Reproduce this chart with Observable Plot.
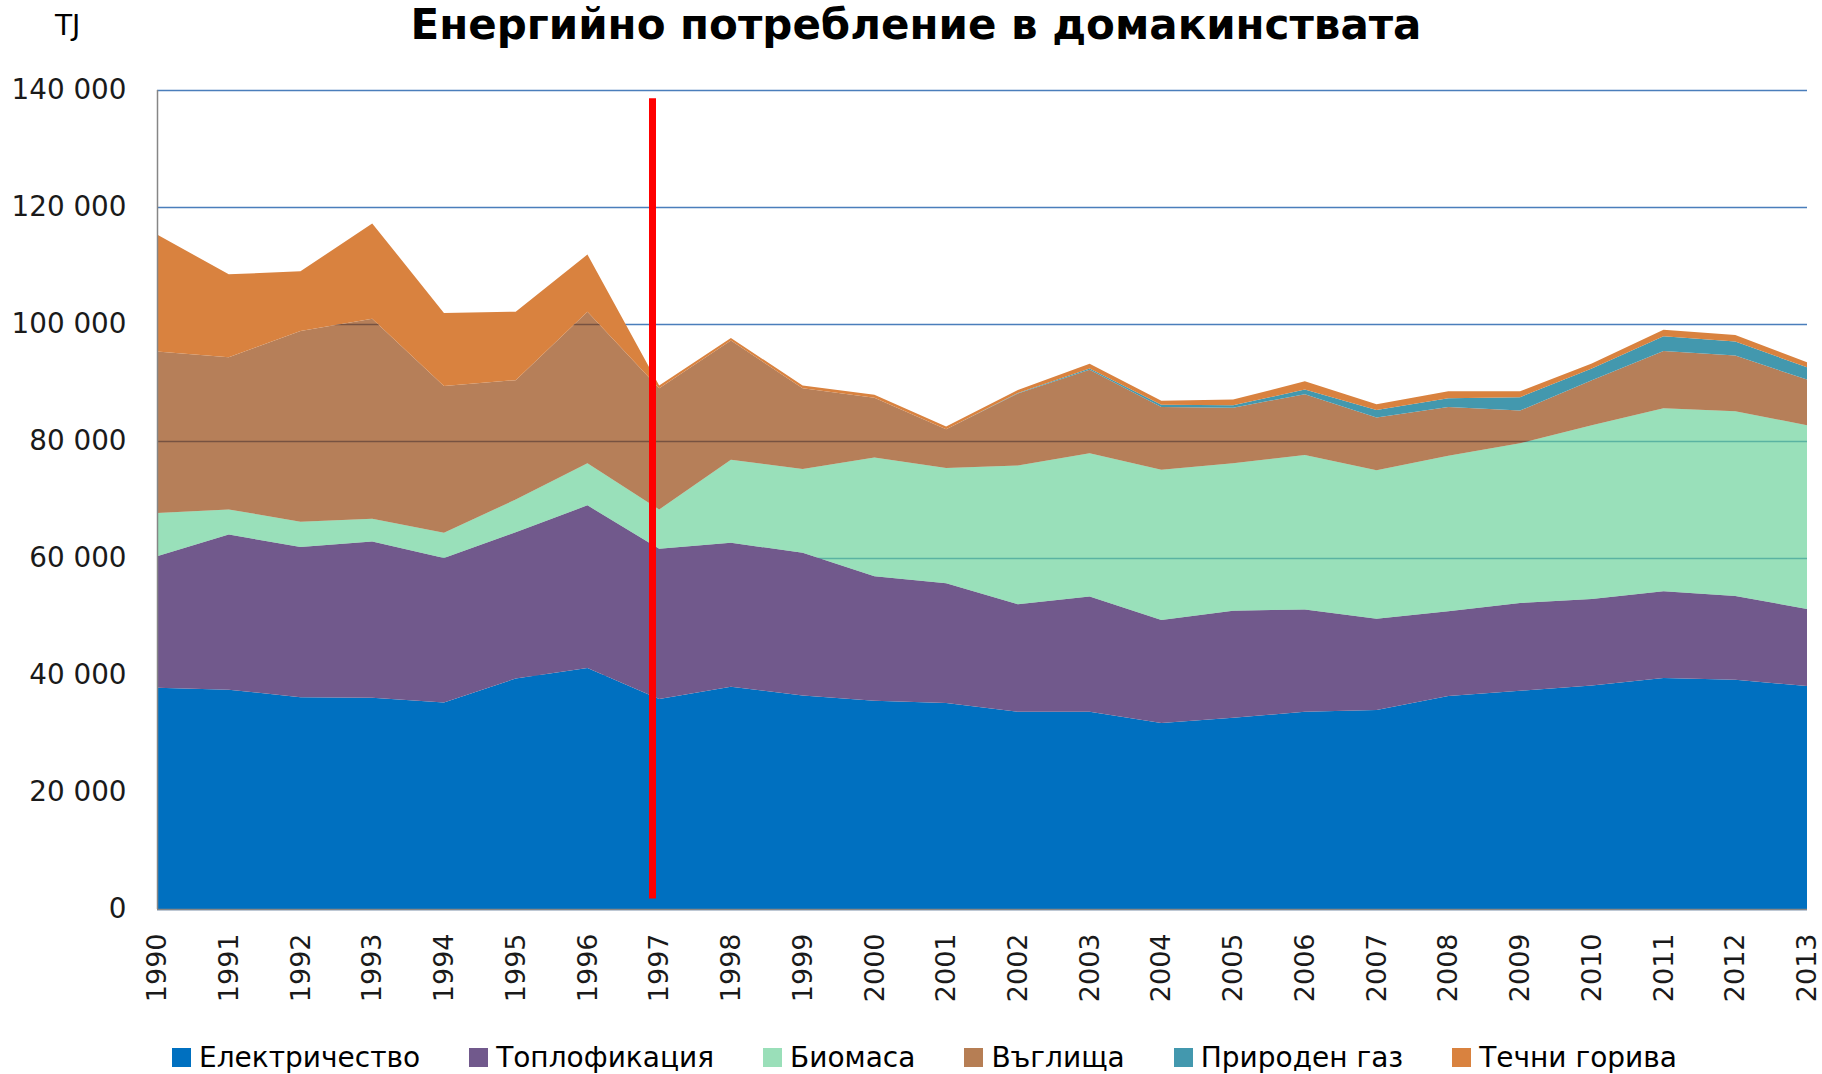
<!DOCTYPE html>
<html>
<head>
<meta charset="utf-8">
<script src="https://cdn.jsdelivr.net/npm/d3@7"></script>
<script src="https://cdn.jsdelivr.net/npm/@observablehq/plot@0.6"></script>
<style>
  html, body { margin: 0; padding: 0; background: #fff; }
  #wrap { position: relative; width: 1822px; height: 1074px; overflow: hidden; font-family: "DejaVu Sans", sans-serif; }
  #title { position: absolute; left: 0; width: 1822px; box-sizing: border-box; padding-left: 10px; top: 0px; line-height: normal; text-align: center; font-weight: bold; font-size: 42px; color: #000; white-space: nowrap; }
  #unit { position: absolute; left: 55px; top: 9px; font-size: 28px; color: #000; }
  #chart { position: absolute; left: 0; top: 0; }
  #legend { position: absolute; left: 172px; top: 1041px; display: flex; align-items: center; font-size: 28px; color: #000; white-space: nowrap; }
  .item { display: flex; align-items: center; margin-right: 49px; }
  .sw { width: 19px; height: 19px; margin-right: 8px; }
</style>
</head>
<body>
<div id="wrap">
  <div id="chart"></div>
  <div id="title">Енергийно потребление в домакинствата</div>
  <div id="unit">TJ</div>
  <div id="legend"></div>
</div>
<script>
// ---- Data (TJ) ----
const years = [1990, 1991, 1992, 1993, 1994, 1995, 1996, 1997, 1998, 1999, 2000, 2001,
               2002, 2003, 2004, 2005, 2006, 2007, 2008, 2009, 2010, 2011, 2012, 2013];
const seriesNames = ["Електричество", "Топлофикация", "Биомаса", "Въглища", "Природен газ", "Течни горива"];
const electricity = [37800, 37500, 36200, 36100, 35300, 39400, 41200, 35900, 38000, 36500, 35600, 35200,
                     33700, 33700, 31800, 32700, 33700, 34000, 36400, 37300, 38200, 39500, 39200, 38100];
const heating     = [22500, 26500, 25700, 26700, 24700, 25000, 27800, 25700, 24600, 24400, 21300, 20500,
                     18400, 19700, 17600, 18300, 17500, 15600, 14500, 15000, 14800, 14800, 14300, 13200];
const biomass     = [7400, 4300, 4300, 3900, 4300, 5600, 7200, 6700, 14200, 14300, 20300, 19700,
                     23700, 24500, 25700, 25200, 26400, 25400, 26600, 27300, 29700, 31300, 31600, 31400];
const coal        = [27600, 26000, 32600, 34200, 25100, 20400, 25900, 20700, 20400, 13800, 10200, 6600,
                     12300, 14300, 10700, 9500, 10400, 9000, 8300, 5600, 7700, 9800, 9500, 7800];
const naturalGas  = [0, 0, 0, 0, 0, 0, 0, 0, 0, 0, 0, 0,
                     100, 200, 400, 400, 800, 1300, 1500, 2300, 2000, 2500, 2400, 2100];
const liquidFuels = [20000, 14200, 10200, 16300, 12500, 11700, 9800, 500, 400, 500, 500, 500,
                     500, 800, 700, 1000, 1400, 1000, 1200, 1000, 850, 1100, 1100, 850];
const yTicks = [0, 20000, 40000, 60000, 80000, 100000, 120000, 140000];
// annotation: vertical red marker just before 1997
const markerYear = 1996.9;
const markerRange = [1800, 138600];

// ---- Styles ----
const colors = {
  "Електричество": "#0070c0",
  "Топлофикация": "#71598c",
  "Биомаса": "#63cf95",
  "Въглища": "#8f3a00",
  "Природен газ": "#4398ae",
  "Течни горива": "#d9823f"
};
const swatchColors = {
  "Електричество": "#0070c0",
  "Топлофикация": "#71598c",
  "Биомаса": "#9adfb9",
  "Въглища": "#b67e54",
  "Природен газ": "#4398ae",
  "Течни горива": "#d9823f"
};
const opacities = { "Биомаса": 0.65, "Въглища": 0.65 };

const seriesValues = [electricity, heating, biomass, coal, naturalGas, liquidFuels];
const data = [];
seriesNames.forEach((name, i) => {
  years.forEach((yr, j) => data.push({ year: yr, series: name, value: seriesValues[i][j] }));
});

const fmt = d3.formatLocale({ decimal: ",", thousands: " ", grouping: [3], currency: ["", ""] }).format(",d");

const chart = Plot.plot({
  width: 1822,
  height: 1010,
  marginTop: 90,
  marginBottom: 101,
  marginLeft: 157,
  marginRight: 15,
  style: { fontFamily: "DejaVu Sans, sans-serif", fontSize: "27px", color: "#000", background: "transparent" },
  x: { type: "linear", domain: [1990, 2013] },
  y: { domain: [0, 140000] },
  color: { domain: seriesNames, range: seriesNames.map(s => colors[s]) },
  marks: [
    Plot.gridY(yTicks, { stroke: "#4a7ebb", strokeOpacity: 1, strokeWidth: 1.6 }),
    Plot.areaY(data, {
      x: "year", y: "value", z: "series", fill: "series",
      fillOpacity: d => opacities[d.series] ?? 1,
      curve: "linear"
    }),
    Plot.ruleX([1990], { stroke: "#868686", strokeWidth: 1.5 }),
    Plot.ruleY([0], { stroke: "#868686", strokeWidth: 1.5 }),
    Plot.ruleX([markerYear], { y1: markerRange[0], y2: markerRange[1], stroke: "#ff0000", strokeWidth: 7 }),
    Plot.axisY(yTicks, { tickFormat: fmt, tickSize: 0, tickPadding: 31, label: null, fill: "#1a1a1a", fontSize: 27.8 }),
    Plot.axisX(years, { tickFormat: d => String(d), tickRotate: -90, tickSize: 0, tickPadding: 24, label: null, fill: "#1a1a1a" })
  ]
});
document.getElementById("chart").appendChild(chart);

const legend = document.getElementById("legend");
seriesNames.forEach(name => {
  const item = document.createElement("div");
  item.className = "item";
  const sw = document.createElement("div");
  sw.className = "sw";
  sw.style.background = swatchColors[name];
  const tx = document.createElement("span");
  tx.textContent = name;
  item.appendChild(sw);
  item.appendChild(tx);
  legend.appendChild(item);
});
</script>
</body>
</html>
